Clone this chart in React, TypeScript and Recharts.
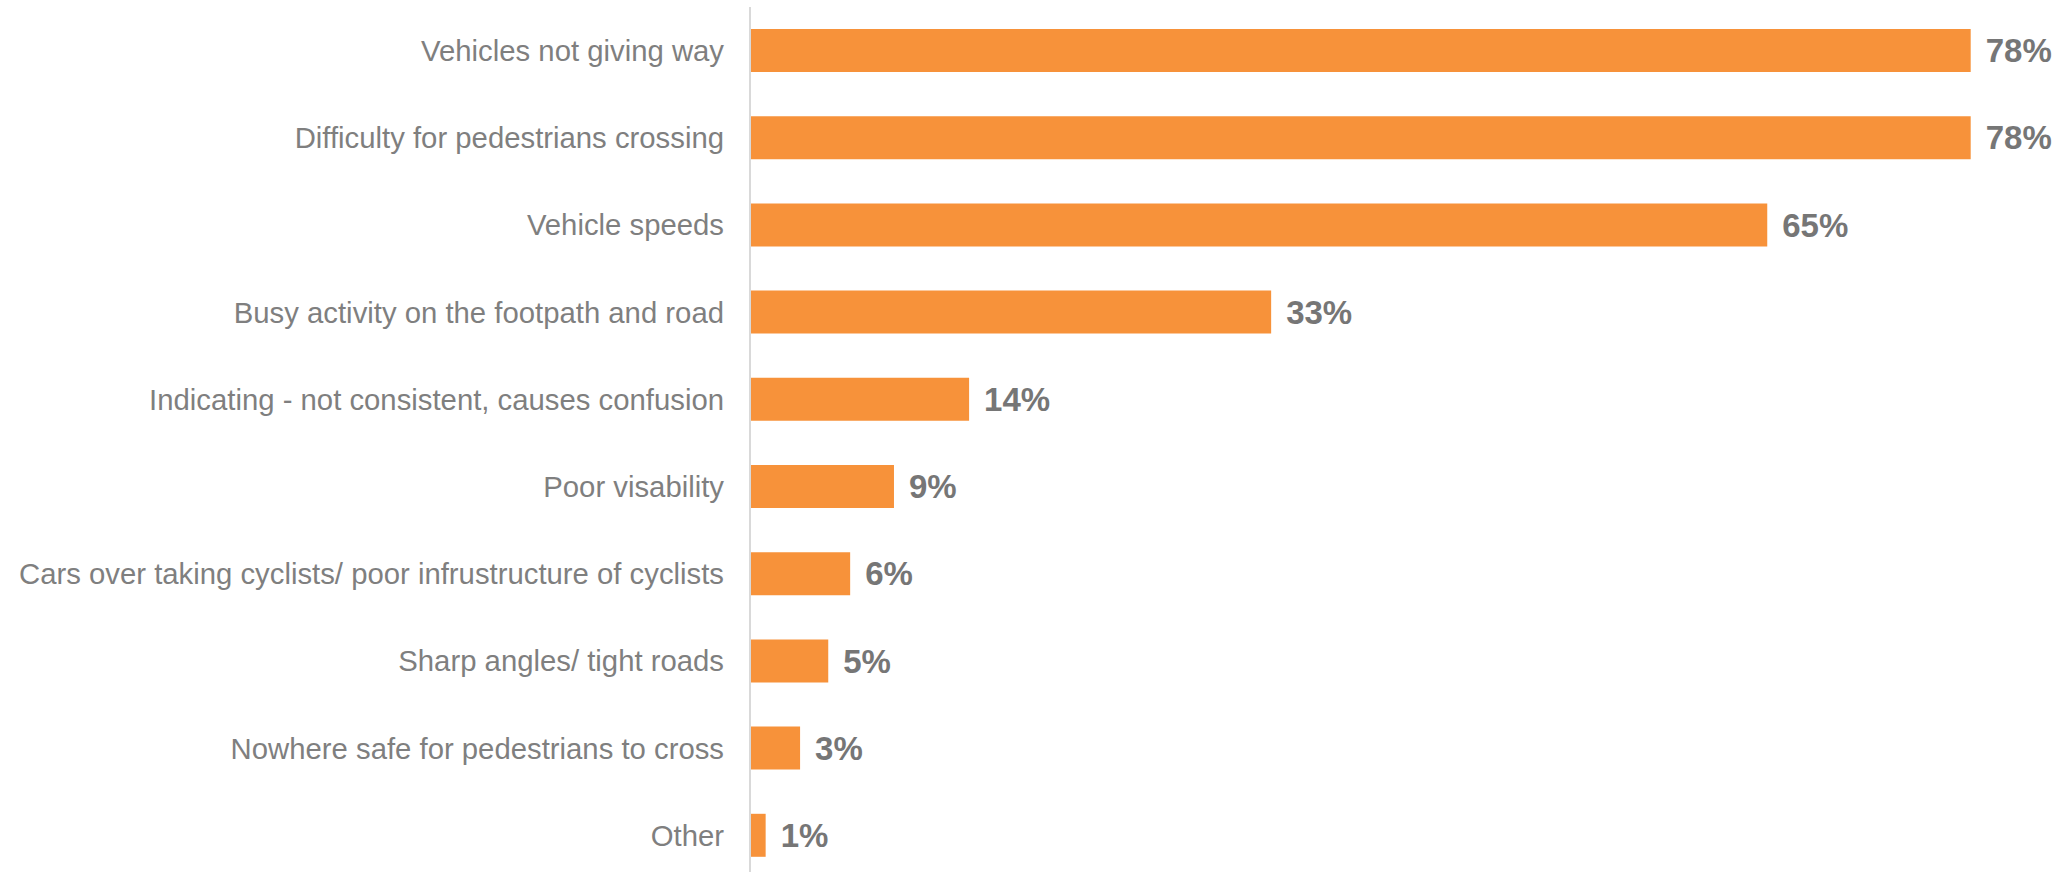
import React from "react";
import { BarChart, Bar, XAxis, YAxis, LabelList } from "recharts";

const categories = [
  "Vehicles not giving way",
  "Difficulty for pedestrians crossing",
  "Vehicle speeds",
  "Busy activity on the footpath and road",
  "Indicating - not consistent, causes confusion",
  "Poor visability",
  "Cars over taking cyclists/ poor infrustructure of cyclists",
  "Sharp angles/ tight roads",
  "Nowhere safe for pedestrians to cross",
  "Other",
];

// share of respondents (%), labels are shown rounded
const percentages = [78, 78, 65, 33.3, 14, 9.2, 6.4, 5, 3.2, 1];

const data = categories.map((name, i) => ({ name, value: percentages[i] }));

const FONT = "'Liberation Sans', Arial, sans-serif";

export default function App() {
  return (
    <div
      style={{
        position: "absolute",
        top: 0,
        left: 0,
        width: 2068,
        height: 872,
        overflow: "hidden",
        background: "#fff",
      }}
    >
      <BarChart
        width={2068}
        height={880}
        data={data}
        layout="vertical"
        margin={{ top: 7, right: 66, bottom: 1, left: 0 }}
        barSize={43}
      >
        <XAxis type="number" domain={[0, 80]} hide />
        <YAxis
          type="category"
          dataKey="name"
          width={750}
          interval={0}
          tickLine={false}
          tickSize={6}
          tickMargin={20}
          axisLine={{ stroke: "#d9d9d9", strokeWidth: 2 }}
          tick={{ fill: "#7f7f7f", fontSize: 29.3, fontFamily: FONT }}
        />
        <Bar dataKey="value" fill="#f7923a" isAnimationActive={false}>
          <LabelList
            dataKey="value"
            position="right"
            offset={15}
            formatter={(v: number) => `${Math.round(v)}%`}
            fill="#767676"
            fontSize={33}
            fontWeight="bold"
            fontFamily={FONT}
          />
        </Bar>
      </BarChart>
    </div>
  );
}
